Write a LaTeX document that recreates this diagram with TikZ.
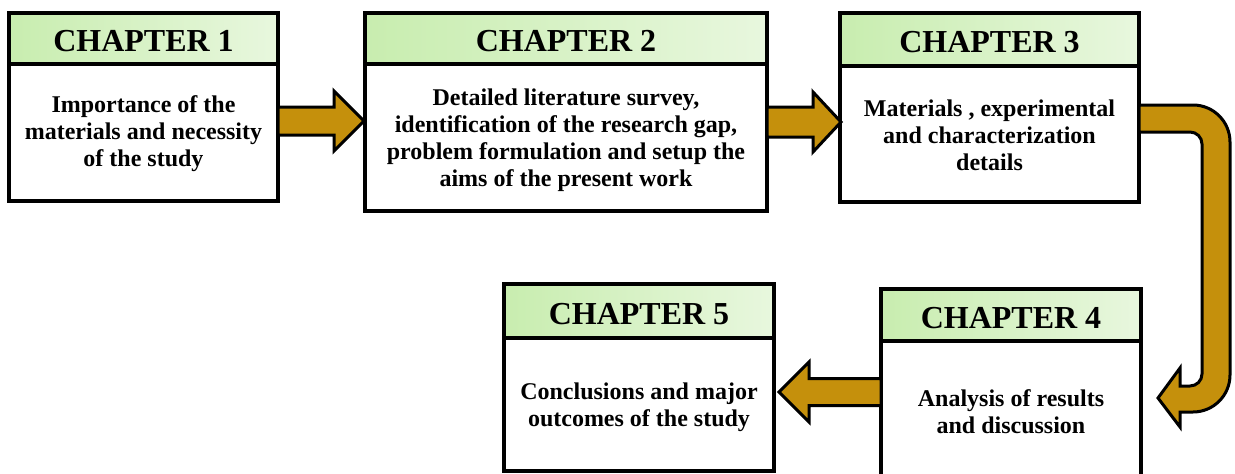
\documentclass[tikz,border=0pt]{standalone}
\usepackage{fontspec}
\setmainfont{Liberation Serif}
\usetikzlibrary{calc}
\definecolor{gold}{RGB}{197,144,12}
\definecolor{hdrA}{RGB}{200,237,175}
\definecolor{hdrB}{RGB}{232,247,222}
\tikzset{
  hdr/.style={draw=black, line width=3.5pt, left color=hdrA, right color=hdrB, outer sep=0pt,
    inner sep=0pt, anchor=north west},
  hdrtext/.style={font=\fontsize{32}{35}\selectfont\bfseries, inner sep=0pt, yshift=-3pt},
  bodybox/.style={draw=black, line width=3.5pt, fill=white, outer sep=0pt,
    inner sep=0pt, anchor=north west},
  bodytext/.style={font=\fontsize{24}{27}\selectfont\bfseries, align=center, inner sep=0pt},
  blk/.style={draw=black, line width=3pt, fill=gold, line join=miter},
}
% #1 start, #2 tip, #3 shaft half, #4 head half, #5 signed head length
\newcommand\blockarrow[5]{%
  \draw[blk] ($(#1)+(0,#3)$) -- ($(#2)+({-(#5)},#3)$) -- ($(#2)+({-(#5)},#4)$) -- (#2)
    -- ($(#2)+({-(#5)},-#4)$) -- ($(#2)+({-(#5)},-#3)$) -- ($(#1)+(0,-#3)$) -- cycle;}
\begin{document}
\begin{tikzpicture}[x=1pt,y=1pt]
\useasboundingbox (0,0) rectangle (1235,-474);
\clip (0,0) rectangle (1235,-474);
\fill[white] (0,0) rectangle (1235,-474);

% Chapter 1
\node[hdr, minimum width=269pt, minimum height=51pt,
  label={[hdrtext]center:CHAPTER 1}] (h1) at (9,-13) {};
\node[bodybox, minimum width=269pt, minimum height=137pt,
  label={[bodytext, yshift=-1.5pt]center:{Importance of the\\materials and necessity\\of the study}}] (b1) at (h1.south west) {};
% Chapter 2
\node[hdr, minimum width=402pt, minimum height=51pt,
  label={[hdrtext]center:CHAPTER 2}] (h2) at (365,-13) {};
\node[bodybox, minimum width=402pt, minimum height=147pt,
  label={[bodytext, yshift=-3pt]center:{Detailed literature survey,\\identification of the research gap,\\problem formulation and setup the\\aims of the present work}}] (b2) at (h2.south west) {};
% Chapter 3
\node[hdr, minimum width=299pt, minimum height=53pt,
  label={[hdrtext]center:CHAPTER 3}] (h3) at (840,-13) {};
\node[bodybox, minimum width=299pt, minimum height=136pt,
  label={[bodytext, yshift=-1.5pt]center:{Materials , experimental\\and characterization\\details}}] (b3) at (h3.south west) {};
% Chapter 4
\node[hdr, minimum width=260pt, minimum height=52pt,
  label={[hdrtext]center:CHAPTER 4}] (h4) at (881,-289) {};
\node[bodybox, minimum width=260pt, minimum height=140pt,
  label={[bodytext, yshift=-1pt]center:{Analysis of results\\and discussion}}] (b4) at (h4.south west) {};
% Chapter 5
\node[hdr, minimum width=270pt, minimum height=54pt,
  label={[hdrtext]center:CHAPTER 5}] (h5) at (504,-284) {};
\node[bodybox, minimum width=270pt, minimum height=133pt,
  label={[bodytext, yshift=-3pt]center:{Conclusions and major\\outcomes of the study}}] (b5) at (h5.south west) {};

% straight block arrows
\coordinate (s1) at ($(b1.north east)+(0,-57)$);
\coordinate (t1) at ($(b2.north west |- s1)+(-1,0)$);
\blockarrow{s1}{t1}{14}{30}{30}
\coordinate (s2) at ($(b2.north east)+(0,-58)$);
\coordinate (t2) at ($(b3.north west |- s2)+(1,0)$);
\blockarrow{s2}{t2}{15}{30}{28}
\coordinate (s4) at ($(b4.north west)+(0,-51)$);
\coordinate (t4) at ($(b5.north east |- s4)+(5,0)$);
\blockarrow{s4}{t4}{13.5}{30}{-30}

% curved block arrow from chapter 3 to chapter 4
\coordinate (c3) at ($(b3.north east)+(0,-39)$);
\draw[blk] (c3) -- ++(54,0) arc[start angle=90, end angle=0, radius=37pt]
  -- ++(0,-233) arc[start angle=0, end angle=-90, radius=37pt]
  -- ++(-13,0) -- ++(0,-15) -- ++(-22,29) -- ++(22,30) -- ++(0,-18)
  -- ++(10,0) arc[start angle=-90, end angle=0, radius=12pt]
  -- ++(0,230) arc[start angle=0, end angle=90, radius=12pt]
  -- ++(-51,0) -- cycle;
\end{tikzpicture}
\end{document}
